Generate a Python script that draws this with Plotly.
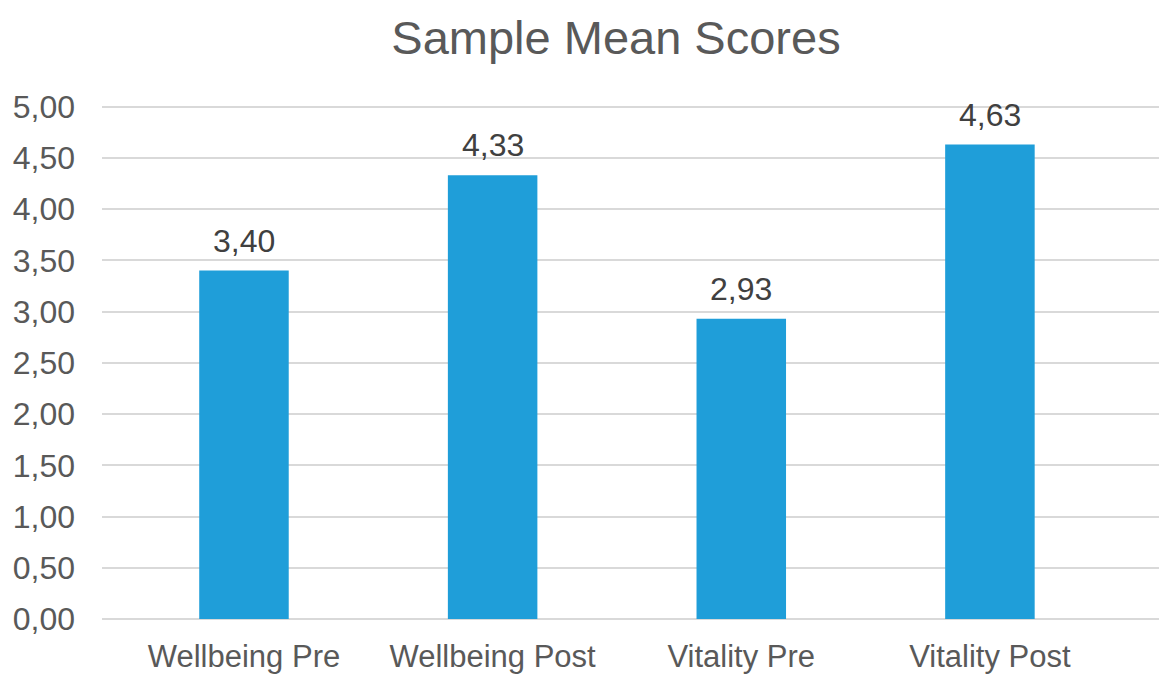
import plotly.graph_objects as go

# Category labels and mean scores
categories = ["Wellbeing Pre", "Wellbeing Post", "Vitality Pre", "Vitality Post"]
mean_scores = [3.40, 4.33, 2.93, 4.63]
y_ticks = [0, 0.5, 1, 1.5, 2, 2.5, 3, 3.5, 4, 4.5, 5]

BAR_COLOR = "#1F9ED9"
GRID = "#D9D9D9"
FONT = "Liberation Sans, Arial, Helvetica, sans-serif"

positions = list(range(len(categories)))

fig = go.Figure(
    go.Bar(
        x=positions,
        y=mean_scores,
        width=0.36,
        marker=dict(color=BAR_COLOR, line=dict(width=0)),
        hoverinfo="skip",
    )
)

# value labels above each bar, using comma as the decimal separator
for xi, v in zip(positions, mean_scores):
    fig.add_annotation(
        x=xi, y=v, xref="x", yref="y",
        text=f"{v:.2f}".replace(".", ","),
        showarrow=False, yanchor="bottom", yshift=10,
        font=dict(family=FONT, size=32, color="#404040"),
    )

fig.update_layout(
    width=1159, height=678,
    margin=dict(l=102, r=0, t=100, b=59),
    paper_bgcolor="white", plot_bgcolor="white",
    separators=",.",
    showlegend=False,
    title=dict(
        text="Sample Mean Scores",
        x=616 / 1159, xref="container", xanchor="center",
        y=1 - 38 / 678, yref="container", yanchor="middle",
        font=dict(family=FONT, size=47, color="#595959"),
    ),
    xaxis=dict(
        range=[-0.571, 3.68],
        tickmode="array", tickvals=positions, ticktext=categories,
        showgrid=False, zeroline=False, showline=False,
        ticks="", ticklabelstandoff=16, automargin=False,
        tickfont=dict(family=FONT, size=31, color="#595959"),
        fixedrange=True,
    ),
    yaxis=dict(
        range=[0, 5.065],
        tickmode="array", tickvals=y_ticks, tickformat=".2f",
        showgrid=True, gridcolor=GRID, gridwidth=2,
        zeroline=True, zerolinecolor=GRID, zerolinewidth=2,
        showline=False, ticks="", ticklabelstandoff=26, automargin=False,
        tickfont=dict(family=FONT, size=32, color="#595959"),
        fixedrange=True,
    ),
)

fig.write_html("out.html")
